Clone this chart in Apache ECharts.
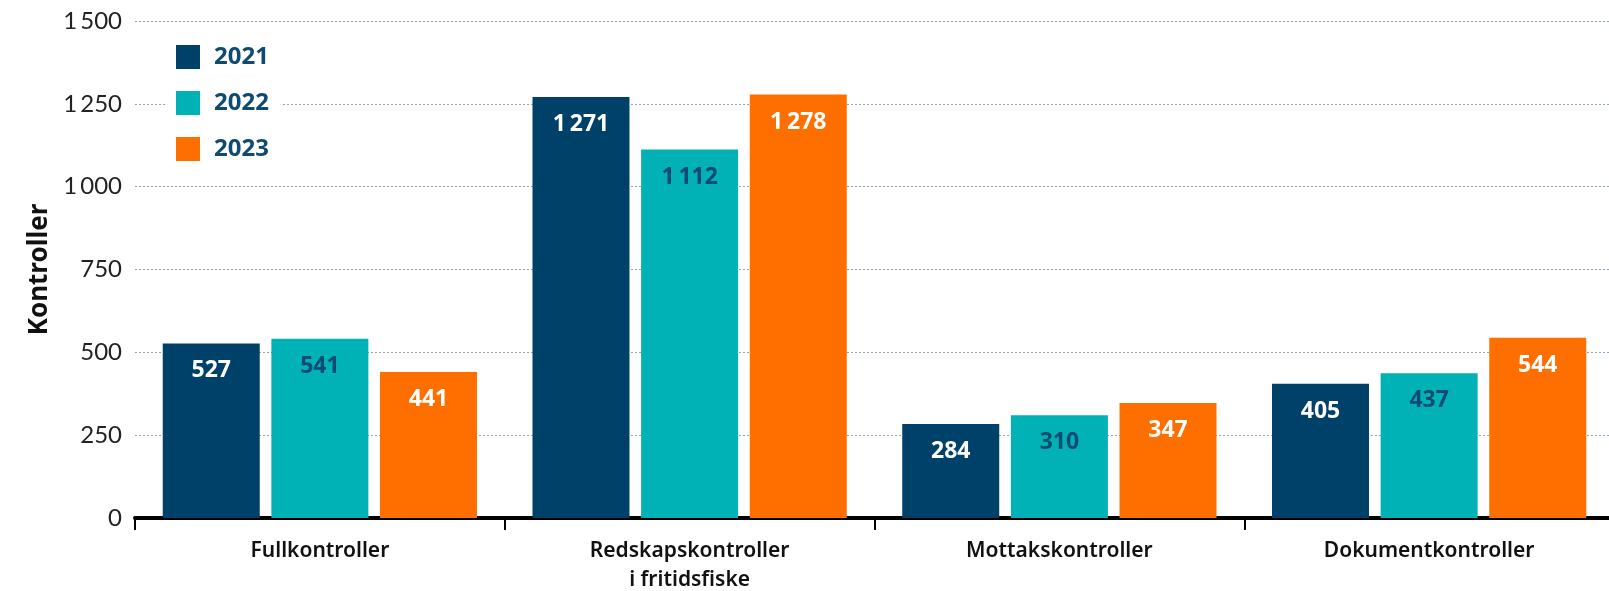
<!DOCTYPE html>
<html>
<head>
<meta charset="utf-8">
<script src="https://cdn.jsdelivr.net/npm/echarts@6/dist/echarts.min.js"></script>
<style>
  html, body { margin: 0; padding: 0; background: #fff; }
  #chart { width: 1609px; height: 591px; }
</style>
</head>
<body>
<div id="chart"></div>
<script>
const categories = ['Fullkontroller', 'Redskapskontroller\ni fritidsfiske', 'Mottakskontroller', 'Dokumentkontroller']
const years = ['2021', '2022', '2023']
const values2021 = [527, 1271, 284, 405]
const values2022 = [541, 1112, 310, 437]
const values2023 = [441, 1278, 347, 544]
const yTicks = [0, 250, 500, 750, 1000, 1250, 1500]

const colors = ['#00416a', '#00b1b5', '#ff6f00']
const labelColors = ['#ffffff', '#0e4a72', '#ffffff']

// tusenskille med smalt mellomrom
const fmt = (v) => String(v).replace(/\B(?=(\d{3})+(?!\d))/g, '\u2009')

const chart = echarts.init(document.getElementById('chart'))

const seriesData = [values2021, values2022, values2023]

const option = {
  animation: false,
  grid: {
    left: 135,
    right: -5,
    top: 21,
    bottom: 73,
    containLabel: false,
    outerBoundsMode: 'none',
  },
  legend: {
    orient: 'vertical',
    left: 165,
    top: 35,
    itemWidth: 24,
    itemHeight: 24,
    itemGap: 22,
    padding: [10, 12, 10, 11],
    backgroundColor: '#ffffff',
    icon: 'rect',
    data: years,
    textStyle: {
      color: '#0e4a72',
      fontSize: 24,
      fontWeight: 'bold',
      fontFamily: 'Noto Sans',
      padding: [0, 0, 0, 9],
    },
  },
  xAxis: {
    type: 'category',
    data: categories,
    axisLine: {
      lineStyle: { color: '#000', width: 4 },
    },
    axisTick: {
      show: true,
      length: 12,
      lineStyle: { color: '#000', width: 2 },
    },
    axisLabel: {
      color: '#111',
      fontSize: 21,
      fontWeight: 600,
      fontFamily: 'Noto Sans',
      lineHeight: 29,
      margin: 19,
    },
  },
  yAxis: {
    type: 'value',
    min: 0,
    max: 1500,
    interval: 250,
    name: 'Kontroller',
    nameLocation: 'middle',
    nameGap: 82,
    nameTextStyle: {
      color: '#111',
      fontSize: 26,
      fontWeight: 'bold',
      fontFamily: 'Noto Sans',
    },
    axisLine: { show: false },
    axisTick: { show: false },
    axisLabel: {
      color: '#222',
      fontSize: 24,
      fontFamily: 'Lato',
      margin: 13,
      formatter: (v) => yTicks.includes(v) ? fmt(v) : '',
    },
    splitLine: {
      lineStyle: { color: '#8fa3b3', type: [2, 2], width: 1 },
    },
  },
  series: years.map((y, i) => ({
    name: y,
    type: 'bar',
    data: seriesData[i],
    barWidth: 97,
    barGap: '12%',
    itemStyle: { color: colors[i] },
    label: {
      show: true,
      position: 'insideTop',
      distance: 16,
      color: labelColors[i],
      fontSize: 23,
      fontWeight: 'bold',
      fontFamily: 'Noto Sans',
      formatter: (p) => fmt(p.value),
    },
  })),
}

chart.setOption(option)
</script>
</body>
</html>
